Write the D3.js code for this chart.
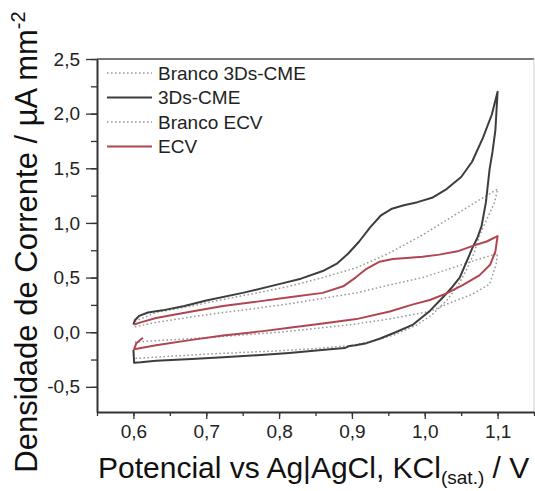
<!DOCTYPE html>
<html>
<head>
<meta charset="utf-8" />
<script src="https://d3js.org/d3.v7.min.js"></script>
<style>
  body { margin: 0; background: #fff; }
  svg { font-family: Arial, "Liberation Sans", sans-serif; }
</style>
</head>
<body>
<div id="chart"></div>
<script>
// Potencial (V) and densidade de corrente (uA mm-2)
const cmeV = [0.600, 0.602, 0.608, 0.620, 0.640, 0.670, 0.700, 0.750, 0.800, 0.830, 0.860, 0.880, 0.895, 0.910, 0.925, 0.940, 0.955, 0.970, 0.990, 1.010, 1.030, 1.050, 1.065, 1.080, 1.092, 1.100,
              1.097, 1.093, 1.089, 1.084, 1.078, 1.072, 1.066, 1.059, 1.048, 1.036, 1.025, 1.007, 0.984, 0.960, 0.938, 0.920, 0.905, 0.897, 0.890, 0.870, 0.840, 0.814, 0.770, 0.723, 0.680, 0.631, 0.610, 0.601, 0.600];
const cmeI = [0.07, 0.11, 0.15, 0.18, 0.20, 0.24, 0.29, 0.36, 0.44, 0.49, 0.56, 0.63, 0.72, 0.83, 0.96, 1.07, 1.13, 1.16, 1.19, 1.23, 1.31, 1.42, 1.56, 1.78, 1.99, 2.20,
              1.85, 1.65, 1.49, 1.19, 0.97, 0.86, 0.78, 0.67, 0.50, 0.40, 0.32, 0.195, 0.07, 0.00, -0.06, -0.10, -0.12, -0.125, -0.145, -0.155, -0.175, -0.19, -0.21, -0.23, -0.245, -0.26, -0.275, -0.28, -0.16];

const ecvV = [0.601, 0.610, 0.631, 0.680, 0.723, 0.770, 0.814, 0.860, 0.888, 0.905, 0.920, 0.938, 0.956, 0.975, 0.997, 1.020, 1.045, 1.066, 1.085, 1.100,
              1.097, 1.090, 1.075, 1.052, 1.030, 1.007, 0.984, 0.952, 0.906, 0.860, 0.814, 0.778, 0.723, 0.680, 0.631, 0.601, 0.604, 0.613];
const ecvI = [0.07, 0.09, 0.13, 0.19, 0.24, 0.28, 0.32, 0.36, 0.42, 0.50, 0.58, 0.645, 0.67, 0.68, 0.69, 0.71, 0.74, 0.79, 0.83, 0.88,
              0.74, 0.62, 0.52, 0.43, 0.355, 0.295, 0.255, 0.19, 0.12, 0.08, 0.04, 0.01, -0.03, -0.07, -0.12, -0.155, -0.10, -0.05];

const bcoCmeV = [0.602, 0.631, 0.680, 0.723, 0.770, 0.814, 0.860, 0.906, 0.950, 0.997, 1.043, 1.070, 1.100,
                 1.096, 1.085, 1.075, 1.068, 1.058, 1.045, 1.030, 1.010, 0.990, 0.960, 0.930, 0.900, 0.850, 0.800, 0.700, 0.602];
const bcoCmeI = [0.10, 0.18, 0.24, 0.30, 0.36, 0.42, 0.50, 0.59, 0.72, 0.89, 1.08, 1.19, 1.31,
                 1.19, 1.03, 0.88, 0.73, 0.58, 0.42, 0.29, 0.16, 0.07, -0.02, -0.08, -0.12, -0.15, -0.17, -0.20, -0.24];

const bcoEcvV = [0.602, 0.631, 0.680, 0.723, 0.770, 0.814, 0.860, 0.906, 0.950, 0.997, 1.043, 1.070, 1.100,
                 1.098, 1.089, 1.066, 1.030, 1.007, 0.950, 0.900, 0.800, 0.700, 0.602];
const bcoEcvI = [0.05, 0.09, 0.14, 0.18, 0.22, 0.26, 0.31, 0.36, 0.43, 0.50, 0.60, 0.66, 0.72,
                 0.62, 0.44, 0.35, 0.256, 0.19, 0.12, 0.07, 0.00, -0.05, -0.09];

const legendNames = ["Branco 3Ds-CME", "3Ds-CME", "Branco ECV", "ECV"];
const xTicks = [0.6, 0.7, 0.8, 0.9, 1.0, 1.1];
const yTicks = [-0.5, 0.0, 0.5, 1.0, 1.5, 2.0, 2.5];

const W = 535, H = 491;
const m = { left: 97, top: 59, right: 1, bottom: 79 };

const svg = d3.select("#chart").append("svg")
  .attr("width", W).attr("height", H);

const x = d3.scaleLinear().domain([0.55, 1.15]).range([m.left, W - m.right]);
const y = d3.scaleLinear().domain([-0.73, 2.5]).range([H - m.bottom, m.top]);

const virgula = v => d3.format(".1f")(v).replace(".", ",").replace("−", "-");

// curvas (brancos primeiro, por baixo)
const series = [
  { v: bcoCmeV, i: bcoCmeI, cor: "#9a9a9a", dash: "1.6,2.4", w: 1.5 },
  { v: bcoEcvV, i: bcoEcvI, cor: "#9a9a9a", dash: "1.6,2.4", w: 1.5 },
  { v: cmeV, i: cmeI, cor: "#3d3d3d", dash: null, w: 2 },
  { v: ecvV, i: ecvI, cor: "#b0454f", dash: null, w: 2 }
];

const line = d3.line().x(d => x(d[0])).y(d => y(d[1]));

svg.append("g").selectAll("path")
  .data(series)
  .enter().append("path")
  .attr("d", s => line(s.v.map((v, k) => [v, s.i[k]])))
  .attr("fill", "none")
  .attr("stroke", s => s.cor)
  .attr("stroke-width", s => s.w)
  .attr("stroke-dasharray", s => s.dash)
  .attr("stroke-linejoin", "round");

// moldura
svg.append("line")
  .attr("x1", m.left).attr("x2", W - m.right)
  .attr("y1", m.top).attr("y2", m.top)
  .attr("stroke", "#777").attr("stroke-width", 2);
svg.append("line")
  .attr("x1", W - m.right).attr("x2", W - m.right)
  .attr("y1", m.top).attr("y2", H - m.bottom)
  .attr("stroke", "#ccc").attr("stroke-width", 1);

// eixos
const xMinor = d3.range(0.55, 1.151, 0.05);
const yMinor = d3.range(-0.75, 2.51, 0.25).filter(v => v > -0.73);

svg.append("g")
  .attr("transform", `translate(0,${H - m.bottom})`)
  .call(d3.axisBottom(x).tickValues(xMinor).tickFormat("").tickSize(4).tickSizeOuter(0))
  .call(g => g.select(".domain").remove())
  .selectAll("line").attr("stroke", "#333").attr("stroke-width", 1.3);

svg.append("g")
  .attr("transform", `translate(${m.left},0)`)
  .call(d3.axisLeft(y).tickValues(yMinor).tickFormat("").tickSize(6).tickSizeOuter(0))
  .call(g => g.select(".domain").remove())
  .selectAll("line").attr("stroke", "#333").attr("stroke-width", 1.3);

const gx = svg.append("g")
  .attr("transform", `translate(0,${H - m.bottom})`)
  .call(d3.axisBottom(x).tickValues(xTicks).tickFormat(virgula).tickSize(7).tickSizeOuter(0).tickPadding(6));
gx.select(".domain").attr("stroke", "#333").attr("stroke-width", 2);
gx.selectAll(".tick line").attr("stroke", "#333").attr("stroke-width", 1.3);
gx.selectAll("text").attr("fill", "#222").style("font-size", "19px");

const gy = svg.append("g")
  .attr("transform", `translate(${m.left},0)`)
  .call(d3.axisLeft(y).tickValues(yTicks).tickFormat(virgula).tickSize(11).tickSizeOuter(0).tickPadding(6));
gy.select(".domain").attr("stroke", "#333").attr("stroke-width", 2);
gy.selectAll(".tick line").attr("stroke", "#333").attr("stroke-width", 1.3);
gy.selectAll("text").attr("fill", "#222").style("font-size", "19px");

// títulos
const tx = svg.append("text")
  .attr("x", 98).attr("y", 478)
  .attr("text-anchor", "start")
  .attr("fill", "#111")
  .style("font-size", "30px");
tx.append("tspan").text("Potencial vs Ag|AgCl, KCl");
tx.append("tspan").attr("dy", 6).style("font-size", "19px").text("(sat.)");
tx.append("tspan").attr("dy", -6).text(" / V");

const ty = svg.append("text")
  .attr("transform", "translate(37,242) rotate(-90)")
  .attr("text-anchor", "middle")
  .attr("fill", "#111")
  .style("font-size", "31px");
ty.append("tspan").text("Densidade de Corrente / µA mm");
ty.append("tspan").attr("dy", -12).style("font-size", "20px").text("-2");

// legenda
const legend = svg.append("g").selectAll("g")
  .data(legendNames)
  .enter().append("g")
  .attr("transform", (d, k) => `translate(107,${73 + k * 24.5})`);

legend.append("line")
  .attr("x1", 0).attr("x2", 45)
  .attr("stroke", (d, k) => series[[0, 2, 1, 3][k]].cor)
  .attr("stroke-width", (d, k) => series[[0, 2, 1, 3][k]].w)
  .attr("stroke-dasharray", (d, k) => series[[0, 2, 1, 3][k]].dash);

legend.append("text")
  .attr("x", 51).attr("dy", "0.35em")
  .attr("fill", "#222")
  .style("font-size", "19px")
  .text(d => d);
</script>
</body>
</html>
